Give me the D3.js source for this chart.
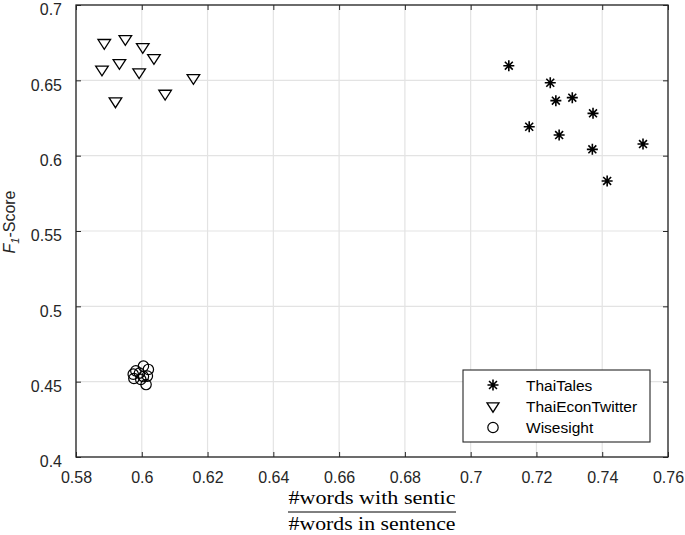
<!DOCTYPE html>
<html>
<head>
<meta charset="utf-8">
<script src="https://cdn.jsdelivr.net/npm/d3@7"></script>
<style>
  body { margin: 0; background: #fff; }
  text { font-family: "Liberation Sans", Arial, Helvetica, sans-serif; }
</style>
</head>
<body>
<svg id="chart"></svg>
<script>
// canvas size
const width = 685;
const height = 535;

// data
const seriesNames = ["ThaiTales", "ThaiEconTwitter", "Wisesight"];

const thaiTalesX = [0.7116, 0.7242, 0.7259, 0.7309, 0.7372, 0.7178, 0.7269, 0.7370, 0.7524, 0.7415];
const thaiTalesY = [0.6597, 0.6484, 0.6365, 0.6385, 0.6281, 0.6192, 0.6137, 0.6042, 0.6077, 0.5832];

const econX = [0.5886, 0.5950, 0.6003, 0.6037, 0.5879, 0.5932, 0.5992, 0.6157, 0.6071, 0.5920];
const econY = [0.6746, 0.6772, 0.6719, 0.6646, 0.6569, 0.6613, 0.6551, 0.6513, 0.6409, 0.6358];

const wiseX = [0.5974, 0.5982, 0.6005, 0.6020, 0.6017, 0.5976, 0.5997, 0.6013, 0.5993, 0.6005];
const wiseY = [0.4550, 0.4572, 0.4603, 0.4581, 0.4537, 0.4521, 0.4515, 0.4481, 0.4557, 0.4534];

const xTicks = [0.58, 0.6, 0.62, 0.64, 0.66, 0.68, 0.7, 0.72, 0.74, 0.76];
const yTicks = [0.4, 0.45, 0.5, 0.55, 0.6, 0.65, 0.7];

// plot box
const pLeft = 76, pRight = 668, pTop = 5, pBottom = 457;

const svg = d3.select("#chart")
  .attr("width", width)
  .attr("height", height);

const x = d3.scaleLinear().domain([0.58, 0.76]).range([pLeft, pRight]);
const y = d3.scaleLinear().domain([0.4, 0.7]).range([pBottom, pTop]);

// grid lines
const grid = svg.append("g").attr("class", "grid");
grid.selectAll("line.gx")
  .data(xTicks)
  .enter()
  .append("line")
  .attr("x1", (d) => x(d)).attr("x2", (d) => x(d))
  .attr("y1", pTop).attr("y2", pBottom)
  .attr("stroke", "#e3e3e3")
  .attr("stroke-width", 1.2);
grid.selectAll("line.gy")
  .data(yTicks)
  .enter()
  .append("line")
  .attr("y1", (d) => y(d)).attr("y2", (d) => y(d))
  .attr("x1", pLeft).attr("x2", pRight)
  .attr("stroke", "#e3e3e3")
  .attr("stroke-width", 1.2);

// axes, ticks pointing inwards on all four sides
const fmt = (d) => String(+d.toFixed(2));
function styleAxis(g) {
  g.select(".domain").remove();
  g.selectAll(".tick line").attr("stroke", "#262626");
  g.selectAll(".tick text")
    .attr("fill", "#262626")
    .style("font-size", "16px");
}

svg.append("g")
  .attr("transform", `translate(0,${pBottom})`)
  .call(d3.axisBottom(x).tickValues(xTicks).tickFormat(fmt).tickSizeInner(-5).tickSizeOuter(0).tickPadding(15))
  .call(styleAxis);
svg.append("g")
  .attr("transform", `translate(0,${pTop})`)
  .call(d3.axisTop(x).tickValues(xTicks).tickFormat("").tickSizeInner(-5).tickSizeOuter(0))
  .call(styleAxis);
svg.append("g")
  .attr("transform", `translate(${pLeft},0)`)
  .call(d3.axisLeft(y).tickValues(yTicks).tickFormat(fmt).tickSizeInner(-5).tickSizeOuter(0).tickPadding(14))
  .call(styleAxis)
  .selectAll(".tick text").attr("dy", "0.62em");
svg.append("g")
  .attr("transform", `translate(${pRight},0)`)
  .call(d3.axisRight(y).tickValues(yTicks).tickFormat("").tickSizeInner(-5).tickSizeOuter(0))
  .call(styleAxis);

// box
svg.append("rect")
  .attr("x", pLeft).attr("y", pTop)
  .attr("width", pRight - pLeft).attr("height", pBottom - pTop)
  .attr("fill", "none")
  .attr("stroke", "#262626")
  .attr("stroke-width", 1.3);

// marker shapes
function starPath(s) {
  const a = s * 0.72;
  return `M0,${-s}L0,${s}M${-s},0L${s},0M${-a},${-a}L${a},${a}M${-a},${a}L${a},${-a}`;
}
function triPath(s) {
  return `M${-s},${-s * 0.6}L${s},${-s * 0.6}L0,${s * 0.95}Z`;
}

const pts = svg.append("g").attr("class", "points");

pts.selectAll("path.star")
  .data(d3.zip(thaiTalesX, thaiTalesY))
  .enter()
  .append("path")
  .attr("transform", (d) => `translate(${x(d[0])},${y(d[1])})`)
  .attr("d", starPath(5.5))
  .attr("stroke", "#000")
  .attr("stroke-width", 1.6)
  .attr("fill", "none");

pts.selectAll("path.tri")
  .data(d3.zip(econX, econY))
  .enter()
  .append("path")
  .attr("transform", (d) => `translate(${x(d[0])},${y(d[1])})`)
  .attr("d", triPath(6.3))
  .attr("stroke", "#000")
  .attr("stroke-width", 1.3)
  .attr("fill", "none");

pts.selectAll("circle")
  .data(d3.zip(wiseX, wiseY))
  .enter()
  .append("circle")
  .attr("cx", (d) => x(d[0]))
  .attr("cy", (d) => y(d[1]))
  .attr("r", 5.2)
  .attr("stroke", "#000")
  .attr("stroke-width", 1.2)
  .attr("fill", "none");

// legend
const legend = svg.append("g").attr("class", "legend");
legend.append("rect")
  .attr("x", 463).attr("y", 370)
  .attr("width", 187).attr("height", 72)
  .attr("fill", "#fff")
  .attr("stroke", "#262626")
  .attr("stroke-width", 1.1);

const rowY = [385, 406.5, 427.5];
seriesNames.forEach((name, i) => {
  const gy = rowY[i];
  let m;
  if (i === 0) {
    m = legend.append("path").attr("d", starPath(5.5)).attr("stroke-width", 1.6);
  } else if (i === 1) {
    m = legend.append("path").attr("d", triPath(6)).attr("stroke-width", 1.3);
  } else {
    m = legend.append("circle").attr("r", 5.2).attr("stroke-width", 1.2);
  }
  m.attr("transform", `translate(493,${gy})`)
    .attr("stroke", "#000")
    .attr("fill", "none");
  legend.append("text")
    .attr("x", 526)
    .attr("y", gy)
    .attr("dy", "0.36em")
    .attr("fill", "#000")
    .style("font-size", "15.5px")
    .text(name);
});

// y label: F_1-Score
const ylab = svg.append("text")
  .attr("transform", "translate(15,222) rotate(-90)")
  .attr("text-anchor", "middle")
  .attr("fill", "#262626")
  .style("font-size", "16px");
ylab.append("tspan").style("font-style", "italic").text("F");
ylab.append("tspan").style("font-style", "italic").style("font-size", "11px").attr("dy", 4).text("1");
ylab.append("tspan").attr("dy", -4).text("-Score");

// x label, a fraction in serif
const cx = (pLeft + pRight) / 2;
const xl = svg.append("g").attr("class", "xlabel");
xl.append("text")
  .attr("x", cx).attr("y", 504)
  .attr("text-anchor", "middle")
  .attr("textLength", 167)
  .attr("lengthAdjust", "spacingAndGlyphs")
  .style("font-family", "'Liberation Serif', 'DejaVu Serif', serif")
  .style("font-size", "19px")
  .attr("fill", "#000")
  .text("#words with sentic");
xl.append("line")
  .attr("x1", cx - 84).attr("x2", cx + 84)
  .attr("y1", 512).attr("y2", 512)
  .attr("stroke", "#000")
  .attr("stroke-width", 1);
xl.append("text")
  .attr("x", cx).attr("y", 530)
  .attr("text-anchor", "middle")
  .attr("textLength", 167)
  .attr("lengthAdjust", "spacingAndGlyphs")
  .style("font-family", "'Liberation Serif', 'DejaVu Serif', serif")
  .style("font-size", "19px")
  .attr("fill", "#000")
  .text("#words in sentence");
</script>
</body>
</html>
